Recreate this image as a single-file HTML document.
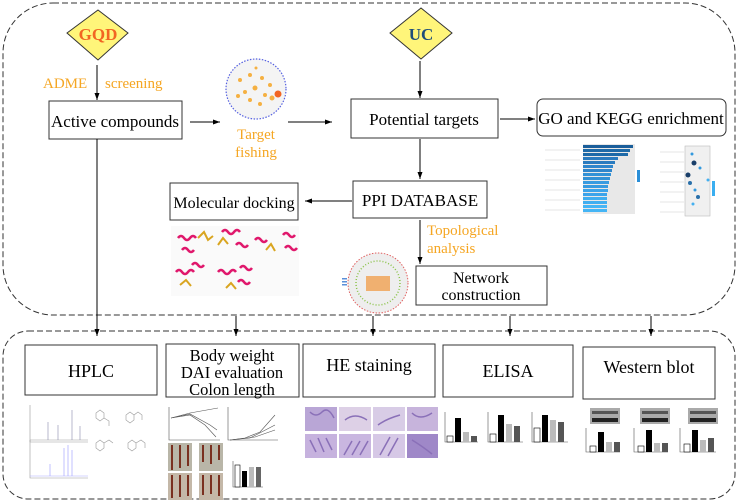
<!DOCTYPE html>
<html><head><meta charset="utf-8"><style>
html,body{margin:0;padding:0;background:#fff;}
svg{display:block;}
text{font-family:"Liberation Serif",serif;}
</style></head><body>
<svg width="740" height="502" viewBox="0 0 740 502" xmlns="http://www.w3.org/2000/svg">
<defs>
<marker id="a" markerWidth="8" markerHeight="8" refX="7" refY="4" orient="auto" markerUnits="userSpaceOnUse"><path d="M0,1.5 L7,4 L0,6.5Z" fill="#000"/></marker>
</defs>
<rect x="3" y="3" width="732" height="312" rx="50" fill="none" stroke="#333" stroke-width="1" stroke-dasharray="6,3"/>
<rect x="3" y="331" width="732" height="168" rx="25" fill="none" stroke="#333" stroke-width="1" stroke-dasharray="6,3"/>

<polygon points="98,10 128,33 98,60 67,33" fill="#fff57a" stroke="#333" stroke-width="1"/>
<text x="98" y="40" text-anchor="middle" font-size="17" font-weight="bold" fill="#f26522">GQD</text>
<polygon points="421,8 452,33 421,59 390,33" fill="#fff57a" stroke="#333" stroke-width="1"/>
<text x="421" y="40" text-anchor="middle" font-size="17" font-weight="bold" fill="#1f4e79">UC</text>

<line x1="97" y1="65" x2="97" y2="100" stroke="#000" marker-end="url(#a)"/>
<text x="43" y="88" font-size="15" fill="#f5a623">ADME</text>
<text x="105" y="88" font-size="15" fill="#f5a623">screening</text>
<line x1="420" y1="61" x2="420" y2="98" stroke="#000" marker-end="url(#a)"/>

<rect x="49" y="101" width="133" height="38" fill="#fff" stroke="#333"/>
<text x="115" y="127" text-anchor="middle" font-size="17">Active compounds</text>
<line x1="190" y1="122" x2="220" y2="122" stroke="#000" marker-end="url(#a)"/>

<circle cx="256" cy="89" r="30" fill="#f4f4f4" stroke="#5560e0" stroke-width="1.2" stroke-dasharray="1.5,1.5"/>
<g fill="#f5b041">
<circle cx="240" cy="80" r="2"/><circle cx="250" cy="75" r="2"/><circle cx="262" cy="78" r="2"/><circle cx="270" cy="85" r="2"/><circle cx="245" cy="92" r="2"/><circle cx="255" cy="88" r="2.5"/><circle cx="265" cy="95" r="2"/><circle cx="238" cy="96" r="2"/><circle cx="250" cy="100" r="2"/><circle cx="260" cy="104" r="2"/><circle cx="256" cy="68" r="1.5"/><circle cx="272" cy="98" r="2.5"/>
</g>
<circle cx="278" cy="94" r="3.5" fill="#f26522"/>
<text x="256" y="139" text-anchor="middle" font-size="15" fill="#f5a623">Target</text>
<text x="256" y="157" text-anchor="middle" font-size="15" fill="#f5a623">fishing</text>
<line x1="288" y1="122" x2="332" y2="122" stroke="#000" marker-end="url(#a)"/>

<rect x="351" y="99" width="147" height="39" fill="#fff" stroke="#333"/>
<text x="424" y="125" text-anchor="middle" font-size="17">Potential targets</text>
<line x1="500" y1="119" x2="535" y2="119" stroke="#000" marker-end="url(#a)"/>
<rect x="537" y="99" width="189" height="37" rx="6" fill="#fff" stroke="#333"/>
<text x="631" y="124" text-anchor="middle" font-size="17">GO and KEGG enrichment</text>

<g>
<rect x="583" y="144" width="52" height="70" fill="#e8e8e8"/>
<rect x="583" y="145" width="50" height="3" fill="#1a5e9a"/>
<rect x="583" y="149" width="47" height="3" fill="#1e6aa8"/>
<rect x="583" y="153" width="45" height="3" fill="#1e6aa8"/>
<rect x="583" y="157" width="35" height="3" fill="#2a7bbf"/>
<rect x="583" y="161" width="32" height="3" fill="#2a7bbf"/>
<rect x="583" y="165" width="30" height="3" fill="#2f86cc"/>
<rect x="583" y="169" width="29" height="3" fill="#2f86cc"/>
<rect x="583" y="173" width="28" height="3" fill="#3392d6"/>
<rect x="583" y="177" width="27" height="3" fill="#3392d6"/>
<rect x="583" y="181" width="26" height="3" fill="#389be0"/>
<rect x="583" y="185" width="25" height="3" fill="#389be0"/>
<rect x="583" y="189" width="25" height="3" fill="#3ca4ea"/>
<rect x="583" y="193" width="24" height="3" fill="#3ca4ea"/>
<rect x="583" y="197" width="24" height="3" fill="#40aef0"/>
<rect x="583" y="201" width="24" height="3" fill="#40aef0"/>
<rect x="583" y="205" width="24" height="3" fill="#45b5f5"/>
<rect x="583" y="209" width="24" height="3" fill="#45b5f5"/>
<g stroke="#ccc" stroke-width="0.6"><line x1="545" y1="150" x2="580" y2="150"/><line x1="545" y1="160" x2="580" y2="160"/><line x1="545" y1="170" x2="580" y2="170"/><line x1="545" y1="180" x2="580" y2="180"/><line x1="545" y1="190" x2="580" y2="190"/><line x1="545" y1="200" x2="580" y2="200"/><line x1="545" y1="210" x2="580" y2="210"/></g>
<rect x="637" y="170" width="3" height="12" fill="#2a8fd8"/>
</g>
<g>
<rect x="685" y="146" width="25" height="70" fill="#f0f0f0" stroke="#bbb" stroke-width="0.6"/>
<g stroke="#ccc" stroke-width="0.6"><line x1="660" y1="152" x2="684" y2="152"/><line x1="660" y1="162" x2="684" y2="162"/><line x1="660" y1="172" x2="684" y2="172"/><line x1="660" y1="182" x2="684" y2="182"/><line x1="660" y1="192" x2="684" y2="192"/><line x1="660" y1="202" x2="684" y2="202"/><line x1="660" y1="212" x2="684" y2="212"/></g>
<circle cx="692" cy="154" r="1.5" fill="#3399dd"/><circle cx="694" cy="163" r="2.5" fill="#1a3f6a"/><circle cx="700" cy="168" r="1.5" fill="#3399dd"/><circle cx="688" cy="175" r="2.5" fill="#1a3f6a"/><circle cx="690" cy="183" r="2" fill="#2a70aa"/><circle cx="708" cy="180" r="1.5" fill="#44b0f0"/><circle cx="695" cy="190" r="1.5" fill="#3399dd"/><circle cx="698" cy="197" r="2" fill="#2a70aa"/><circle cx="693" cy="204" r="1.5" fill="#44b0f0"/>
<rect x="712" y="181" width="3" height="15" fill="#3aaef0"/>
</g>

<line x1="420" y1="139" x2="420" y2="179" stroke="#000" marker-end="url(#a)"/>
<rect x="353" y="181" width="134" height="37" fill="#fff" stroke="#333"/>
<text x="420" y="206" text-anchor="middle" font-size="17">PPI DATABASE</text>
<line x1="352" y1="201" x2="305" y2="201" stroke="#000" marker-end="url(#a)"/>
<rect x="170" y="183" width="128" height="37" fill="#fff" stroke="#333"/>
<text x="234" y="208" text-anchor="middle" font-size="16">Molecular docking</text>

<g>
<rect x="171" y="226" width="128" height="70" fill="#fafafa"/>
<g stroke="#e0186c" stroke-width="2.5" fill="none">
<path d="M178,238 q3,-4 6,0 q3,4 6,0 q3,-4 6,0"/><path d="M182,250 q3,-4 6,0 q3,4 6,0"/>
<path d="M222,232 q3,-4 6,0 q3,4 6,0 q3,-4 6,0"/><path d="M236,245 q3,-4 6,0 q3,4 6,0"/>
<path d="M255,240 q3,-4 6,0 q3,4 6,0"/><path d="M283,235 q3,-4 6,0 q3,4 6,0"/><path d="M285,248 q3,-4 6,0 q3,4 6,0"/>
<path d="M176,272 q3,-4 6,0 q3,4 6,0 q3,-4 6,0"/><path d="M192,265 q3,-4 6,0 q3,4 6,0"/><path d="M218,272 q3,-4 6,0 q3,4 6,0 q3,-4 6,0"/><path d="M240,268 q3,-4 6,0 q3,4 6,0"/><path d="M238,282 q3,-4 6,0 q3,4 6,0"/>
</g>
<g stroke="#d9a520" stroke-width="2" fill="none">
<path d="M198,238 l6,-6 l4,8 l5,-4"/><path d="M218,245 l5,-7 l5,6"/><path d="M266,250 l5,-6 l4,7"/><path d="M180,285 l6,-5 l5,6"/><path d="M226,288 l5,-5 l5,6"/>
</g>
</g>

<line x1="420" y1="220" x2="420" y2="264" stroke="#000" marker-end="url(#a)"/>
<text x="427" y="235" font-size="15" fill="#f5a623">Topological</text>
<text x="427" y="253" font-size="15" fill="#f5a623">analysis</text>

<circle cx="378" cy="283" r="30" fill="#eee" stroke="#e06060" stroke-width="1" stroke-dasharray="1.5,1.5"/>
<circle cx="378" cy="283" r="22" fill="none" stroke="#8bc34a" stroke-width="1.5" stroke-dasharray="1,2"/>
<rect x="366" y="276" width="24" height="15" fill="#f0a050" opacity="0.8"/>
<g fill="#5b8fd8"><rect x="342" y="278" width="5" height="1.5"/><rect x="342" y="281" width="5" height="1.5"/><rect x="342" y="284" width="5" height="1.5"/></g>
<rect x="416" y="266" width="131" height="39" fill="#fff" stroke="#333"/>
<text x="481" y="283" text-anchor="middle" font-size="16">Network</text>
<text x="481" y="300" text-anchor="middle" font-size="16">construction</text>

<line x1="97" y1="139" x2="97" y2="336" stroke="#000" marker-end="url(#a)"/>
<line x1="236" y1="316" x2="236" y2="336" stroke="#000" marker-end="url(#a)"/>
<line x1="373" y1="316" x2="373" y2="336" stroke="#000" marker-end="url(#a)"/>
<line x1="510" y1="316" x2="510" y2="336" stroke="#000" marker-end="url(#a)"/>
<line x1="651" y1="316" x2="651" y2="336" stroke="#000" marker-end="url(#a)"/>

<rect x="25" y="345" width="132" height="50" fill="#fff" stroke="#333"/>
<text x="91" y="377" text-anchor="middle" font-size="18">HPLC</text>
<rect x="166" y="344" width="133" height="53" fill="#fff" stroke="#333"/>
<text x="232" y="361" text-anchor="middle" font-size="16.5">Body weight</text>
<text x="232" y="378" text-anchor="middle" font-size="16.5">DAI evaluation</text>
<text x="232" y="395" text-anchor="middle" font-size="16.5">Colon length</text>
<rect x="303" y="344" width="132" height="53" fill="#fff" stroke="#333"/>
<text x="369" y="371" text-anchor="middle" font-size="18">HE staining</text>
<rect x="443" y="345" width="130" height="52" fill="#fff" stroke="#333"/>
<text x="508" y="377" text-anchor="middle" font-size="18">ELISA</text>
<rect x="583" y="347" width="132" height="52" fill="#fff" stroke="#333"/>
<text x="649" y="373" text-anchor="middle" font-size="18">Western blot</text>

<g stroke="#999" stroke-width="0.6" fill="none">
<path d="M30,405 V442 H88"/><path d="M30,440 H88"/>
<line x1="48" y1="440" x2="48" y2="422" stroke="#88a"/><line x1="58" y1="440" x2="58" y2="425" stroke="#88a"/><line x1="72" y1="440" x2="72" y2="410" stroke="#88a"/><line x1="80" y1="440" x2="80" y2="426" stroke="#88a"/>
<path d="M30,440 V478 H88"/>
<path d="M30,476 H88" stroke="#aaf"/>
<line x1="64" y1="476" x2="64" y2="448" stroke="#99f"/><line x1="68" y1="476" x2="68" y2="445" stroke="#99f"/><line x1="72" y1="476" x2="72" y2="450" stroke="#99f"/><line x1="50" y1="476" x2="50" y2="464" stroke="#99f"/>
<path d="M100,410 l4,3 l0,5 l-4,3 l-4,-3 l0,-5z M104,418 l5,3 l0,5"/>
<path d="M130,412 l4,3 l0,5 l-4,3 l-4,-3 l0,-5z M134,415 l4,-3 l4,3 l0,5"/>
<path d="M100,440 l4,3 l0,5 l-4,3 l-4,-3 l0,-5z M104,443 l5,-3 l4,3"/>
<path d="M132,440 l4,3 l0,5 l-4,3 l-4,-3 l0,-5z M136,443 l5,-3 l4,3 l0,5"/>
</g>

<g stroke="#555" stroke-width="0.6" fill="none">
<path d="M169,407 V440 H220"/><path d="M171,418 L190,413 L218,408"/><path d="M171,418 L190,415 L205,425 L216,437"/><path d="M171,418 L190,414 L210,425 L217,430"/>
<path d="M228,407 V440 H278"/><path d="M230,440 L245,438 L260,432 L275,415"/><path d="M230,440 L250,438 L275,425"/><path d="M230,440 L255,437 L275,430"/>
</g>
<g>
<rect x="168" y="443" width="24" height="28" fill="#b9b6a8"/><rect x="199" y="443" width="24" height="28" fill="#b9b6a8"/>
<rect x="168" y="473" width="24" height="27" fill="#c4b8a8"/><rect x="199" y="473" width="24" height="27" fill="#c4b8a8"/>
<g stroke="#7a3020" stroke-width="2"><line x1="172" y1="445" x2="172" y2="470"/><line x1="180" y1="445" x2="180" y2="468"/><line x1="188" y1="445" x2="188" y2="466"/><line x1="203" y1="445" x2="203" y2="462"/><line x1="211" y1="445" x2="211" y2="464"/><line x1="219" y1="445" x2="219" y2="460"/><line x1="172" y1="475" x2="172" y2="498"/><line x1="180" y1="475" x2="180" y2="497"/><line x1="188" y1="475" x2="188" y2="496"/><line x1="203" y1="475" x2="203" y2="495"/><line x1="211" y1="475" x2="211" y2="494"/><line x1="219" y1="475" x2="219" y2="496"/></g>
<path d="M233,461 V487 H263" stroke="#555" stroke-width="0.6" fill="none"/>
<rect x="235" y="465" width="5" height="22" fill="#fff" stroke="#000" stroke-width="0.6"/><rect x="242" y="471" width="5" height="16" fill="#000"/><rect x="249" y="467" width="5" height="20" fill="#bbb"/><rect x="256" y="467" width="5" height="20" fill="#666"/>
</g>

<g>
<rect x="305" y="407" width="32" height="24" fill="#b9a6d6"/><rect x="339" y="407" width="32" height="24" fill="#ddd0e6"/><rect x="373" y="407" width="32" height="24" fill="#d8cce6"/><rect x="407" y="407" width="31" height="24" fill="#c7b4dc"/>
<rect x="305" y="434" width="32" height="24" fill="#c6b2de"/><rect x="339" y="434" width="32" height="24" fill="#c9b6e0"/><rect x="373" y="434" width="32" height="24" fill="#d6c8e6"/><rect x="407" y="434" width="31" height="24" fill="#9f88c8"/>
<g stroke="#8a70b8" stroke-width="1.5" fill="none"><path d="M310,412 q6,6 12,0 q6,-6 12,6"/><path d="M345,420 q10,-8 22,0"/><path d="M378,425 q8,-6 22,-10"/><path d="M412,413 q8,8 20,0"/><path d="M310,440 l6,12 M318,438 l6,14 M326,438 l6,12"/><path d="M344,455 l8,-14 M352,455 l8,-14 M360,455 l8,-14"/><path d="M380,455 l10,-18 M388,456 l10,-18"/><path d="M412,440 q10,6 20,14"/></g>
</g>

<g>
<path d="M445,412 V442 H478" stroke="#555" stroke-width="0.6" fill="none"/>
<rect x="447" y="436" width="6" height="6" fill="#fff" stroke="#000" stroke-width="0.6"/><rect x="455" y="418" width="6" height="24" fill="#000"/><rect x="463" y="432" width="6" height="10" fill="#bbb"/><rect x="471" y="436" width="6" height="6" fill="#555"/>
<path d="M488,412 V442 H523" stroke="#555" stroke-width="0.6" fill="none"/>
<rect x="490" y="434" width="6" height="8" fill="#fff" stroke="#000" stroke-width="0.6"/><rect x="498" y="415" width="6" height="27" fill="#000"/><rect x="506" y="424" width="6" height="18" fill="#bbb"/><rect x="514" y="426" width="6" height="16" fill="#555"/>
<path d="M532,412 V442 H568" stroke="#555" stroke-width="0.6" fill="none"/>
<rect x="534" y="428" width="6" height="14" fill="#fff" stroke="#000" stroke-width="0.6"/><rect x="542" y="415" width="6" height="27" fill="#000"/><rect x="550" y="420" width="6" height="22" fill="#bbb"/><rect x="558" y="422" width="6" height="20" fill="#555"/>
</g>

<g>
<rect x="590" y="408" width="30" height="16" fill="#aaa"/><rect x="592" y="418" width="26" height="4" fill="#222"/><rect x="592" y="411" width="26" height="3" fill="#555"/>
<rect x="640" y="408" width="30" height="16" fill="#aaa"/><rect x="642" y="418" width="26" height="4" fill="#222"/><rect x="642" y="411" width="26" height="3" fill="#555"/>
<rect x="688" y="408" width="30" height="16" fill="#aaa"/><rect x="690" y="418" width="26" height="4" fill="#222"/><rect x="690" y="411" width="26" height="3" fill="#555"/>
<path d="M586,428 V452 H620" stroke="#555" stroke-width="0.6" fill="none"/>
<rect x="590" y="446" width="6" height="6" fill="#fff" stroke="#000" stroke-width="0.6"/><rect x="598" y="432" width="6" height="20" fill="#000"/><rect x="606" y="442" width="6" height="10" fill="#bbb"/><rect x="614" y="442" width="6" height="10" fill="#555"/>
<path d="M634,428 V452 H668" stroke="#555" stroke-width="0.6" fill="none"/>
<rect x="638" y="446" width="6" height="6" fill="#fff" stroke="#000" stroke-width="0.6"/><rect x="646" y="430" width="6" height="22" fill="#000"/><rect x="654" y="443" width="6" height="9" fill="#bbb"/><rect x="662" y="443" width="6" height="9" fill="#555"/>
<path d="M680,428 V452 H716" stroke="#555" stroke-width="0.6" fill="none"/>
<rect x="684" y="444" width="6" height="8" fill="#fff" stroke="#000" stroke-width="0.6"/><rect x="692" y="430" width="6" height="22" fill="#000"/><rect x="700" y="440" width="6" height="12" fill="#bbb"/><rect x="708" y="438" width="6" height="14" fill="#555"/>
</g>
</svg>
</body></html>
